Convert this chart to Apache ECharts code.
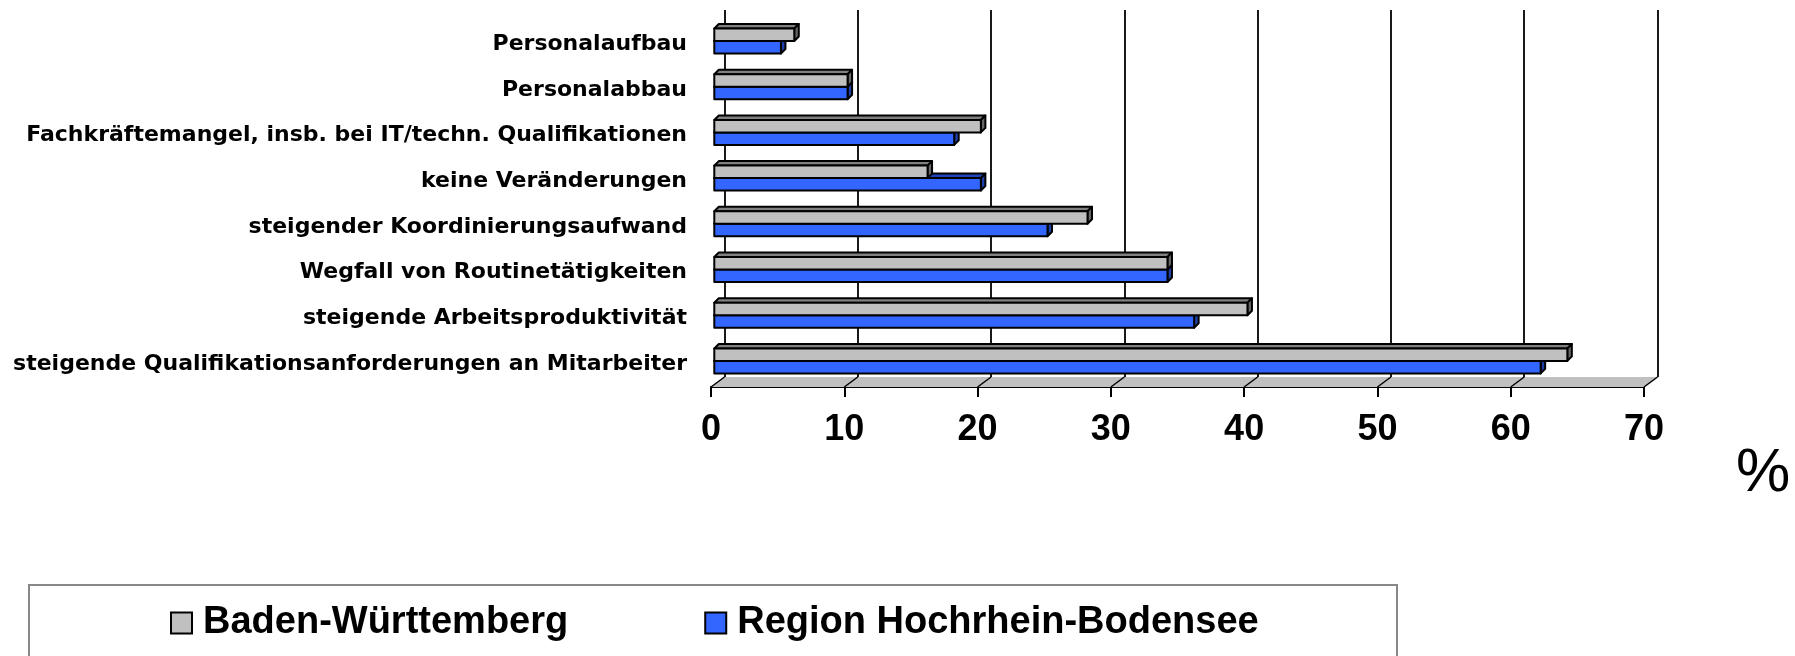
<!DOCTYPE html>
<html>
<head>
<meta charset="utf-8">
<script src="https://cdn.jsdelivr.net/npm/echarts@6/dist/echarts.min.js"></script>
<style>
html,body{margin:0;padding:0;background:#fff;}
#c{width:1795px;height:656px;}
</style>
</head>
<body>
<div id="c"></div>
<script>
const categories = [
  'Personalaufbau',
  'Personalabbau',
  'Fachkräftemangel, insb. bei IT/techn. Qualifikationen',
  'keine Veränderungen',
  'steigender Koordinierungsaufwand',
  'Wegfall von Routinetätigkeiten',
  'steigende Arbeitsproduktivität',
  'steigende Qualifikationsanforderungen an Mitarbeiter'
];
const seriesNames = ['Baden-Württemberg', 'Region Hochrhein-Bodensee'];
const valuesBW = [6, 10, 20, 16, 28, 34, 40, 64];
const valuesHB = [5, 10, 18, 20, 25, 34, 36, 62];
const xTicks = [0, 10, 20, 30, 40, 50, 60, 70];
const unitLabel = '%';

const chart = echarts.init(document.getElementById('c'), null, {renderer: 'canvas'});

const DEPTH_X = 13.5, DEPTH_Y = 10;

function makeBar(front, top, side, upper) {
  return function (params, api) {
    const v = api.value(0), i = api.value(1);
    const b = api.coord([0, i]);
    const e = api.coord([v, i]);
    const band = api.size([0, 1])[1];
    const h = band * 0.273;
    const sx = 3.3, sy = -3.25, d = 4.5;
    const x0 = b[0] + sx, x1 = e[0] + sx, c = b[1] + sy;
    const y0 = upper ? c - h : c, y1 = upper ? c : c + h;
    const st = {stroke: '#000', lineWidth: 2, lineJoin: 'round'};
    return {
      type: 'group',
      children: [
        {type: 'polygon', shape: {points: [[x0, y0], [x1, y0], [x1 + d, y0 - d], [x0 + d, y0 - d]]}, style: Object.assign({fill: top}, st)},
        {type: 'polygon', shape: {points: [[x1, y0], [x1, y1], [x1 + d, y1 - d], [x1 + d, y0 - d]]}, style: Object.assign({fill: side}, st)},
        {type: 'rect', shape: {x: x0, y: y0, width: x1 - x0, height: y1 - y0}, style: Object.assign({fill: front}, st)}
      ]
    };
  };
}

function floorItem(params, api) {
  const cs = params.coordSys;
  const bottom = cs.y + cs.height;
  const p = api.coord([api.value(0), 0]);
  const children = [];
  if (params.dataIndex === 0) {
    children.push({
      type: 'polygon',
      shape: {points: [[cs.x, bottom], [cs.x + cs.width, bottom], [cs.x + cs.width + DEPTH_X, bottom - DEPTH_Y], [cs.x + DEPTH_X, bottom - DEPTH_Y]]},
      style: {fill: '#c0c0c0', stroke: null}
    });
  }
  children.push({
    type: 'line',
    shape: {x1: p[0], y1: bottom, x2: p[0] + DEPTH_X, y2: bottom - DEPTH_Y},
    style: {stroke: '#000', lineWidth: 1.5}
  });
  return {type: 'group', children: children};
}

const option = {
  backgroundColor: '#fff',
  animation: false,
  grid: [
    {left: 711, right: 151, top: 21.4, height: 365.6},
    {left: 711 + DEPTH_X, right: 151 - DEPTH_X, top: 10, height: 377 - 10}
  ],
  xAxis: [
    {
      type: 'value', gridIndex: 0, min: 0, max: 70, interval: 10,
      axisLine: {show: true, onZero: false, lineStyle: {color: '#000', width: 2}},
      axisTick: {show: true, length: 10, lineStyle: {color: '#000', width: 2}},
      splitLine: {show: false},
      axisLabel: {
        show: true, margin: 25, color: '#000',
        fontFamily: 'Liberation Sans', fontWeight: 'bold', fontSize: 36,
        formatter: function (v) { return xTicks.indexOf(v) >= 0 ? String(v) : ''; }
      }
    },
    {
      type: 'value', gridIndex: 1, min: 0, max: 70, interval: 10,
      axisLine: {show: false}, axisTick: {show: false}, axisLabel: {show: false},
      splitLine: {show: true, lineStyle: {color: '#000', width: 1.8}}
    }
  ],
  yAxis: [
    {
      type: 'category', gridIndex: 0, data: categories, inverse: true,
      axisLine: {show: false}, axisTick: {show: false}, splitLine: {show: false},
      axisLabel: {
        show: true, margin: 24, color: '#000', padding: [3, 0, 0, 0],
        fontFamily: 'DejaVu Sans', fontWeight: 'bold', fontSize: 22
      }
    },
    {
      type: 'category', gridIndex: 1, data: categories, inverse: true, show: false
    }
  ],
  legend: {
    data: seriesNames,
    left: 165, top: 599,
    itemWidth: 21, itemHeight: 21, itemGap: 136,
    icon: 'rect',
    itemStyle: {borderColor: '#000', borderWidth: 2},
    textStyle: {fontFamily: 'Liberation Sans', fontWeight: 'bold', fontSize: 38, color: '#000', padding: [0, 0, 0, 6]}
  },
  graphic: [
    {type: 'rect', z: -1, shape: {x: 29, y: 585, width: 1368, height: 120}, style: {fill: '#fff', stroke: '#888', lineWidth: 2}},
    {type: 'text', x: 1736, y: 474, style: {text: unitLabel, fill: '#000', font: 'normal 61px "Liberation Sans"', verticalAlign: 'middle', align: 'left'}}
  ],
  series: [
    {
      type: 'custom', name: 'floor', xAxisIndex: 0, yAxisIndex: 0, z: 1,
      data: xTicks.map(v => [v, 0]),
      renderItem: floorItem,
      silent: true
    },
    {
      type: 'custom', name: seriesNames[1], xAxisIndex: 0, yAxisIndex: 0, z: 3,
      itemStyle: {color: '#3366ff'},
      encode: {x: 0, y: 1},
      data: valuesHB.map((v, i) => [v, i]),
      renderItem: makeBar('#3366ff', '#2244bb', '#1f3fa8', false)
    },
    {
      type: 'custom', name: seriesNames[0], xAxisIndex: 0, yAxisIndex: 0, z: 4,
      itemStyle: {color: '#c0c0c0'},
      encode: {x: 0, y: 1},
      data: valuesBW.map((v, i) => [v, i]),
      renderItem: makeBar('#c0c0c0', '#808080', '#666666', true)
    },
    {
      type: 'custom', name: 'wall', xAxisIndex: 1, yAxisIndex: 1, data: [],
      renderItem: function () { return null; }
    }
  ]
};
chart.setOption(option);
</script>
</body>
</html>
